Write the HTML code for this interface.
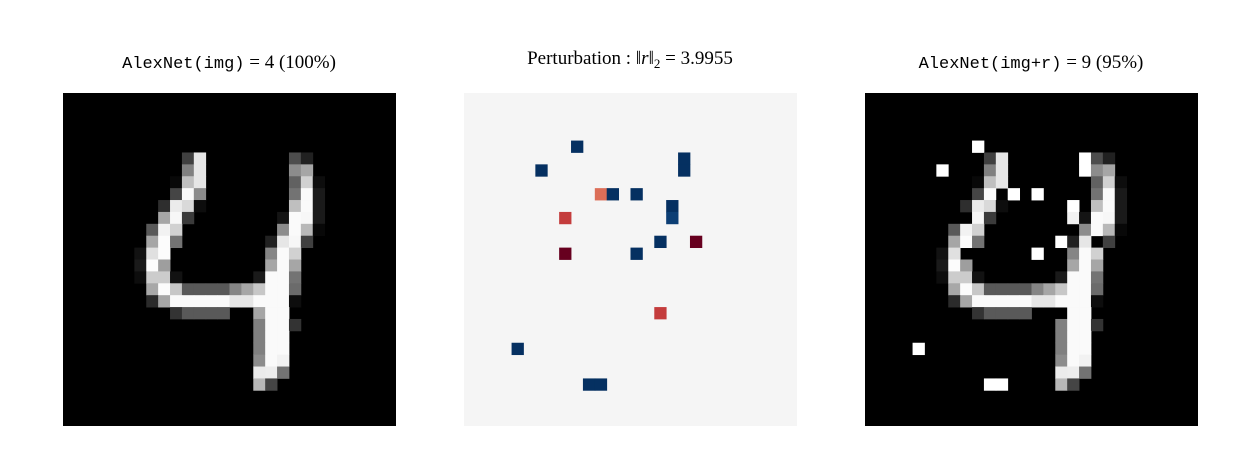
<!DOCTYPE html>
<html><head><meta charset="utf-8"><style>
body{margin:0;background:#fff;width:1260px;height:450px;overflow:hidden}
svg{display:block}
.t{font-family:"Liberation Serif",serif;font-size:19px}
.m{font-family:"Liberation Mono",monospace;font-size:17px}
</style></head><body>
<svg id="fig" width="1260" height="450">
<text class="t" x="229" y="68" text-anchor="middle"><tspan class="m">AlexNet(img)</tspan> = 4 (100%)</text>
<text class="t" x="630" y="64" text-anchor="middle">Perturbation : ‖<tspan font-style="italic">r</tspan>‖<tspan font-size="13" dy="4">2</tspan><tspan dy="-4"> = 3.9955</tspan></text>
<text class="t" x="1031" y="68" text-anchor="middle"><tspan class="m">AlexNet(img+r)</tspan> = 9 (95%)</text>
</svg>
<script>
// digit pixels: [row, col, intensity]
const digitPixels = [
[5,10,.25],[5,11,.9],[5,19,.3],[5,20,.13],
[6,10,.5],[6,11,.9],[6,19,.55],[6,20,.65],
[7,9,.03],[7,10,.75],[7,11,.9],[7,19,.38],[7,20,.82],[7,21,.05],
[8,9,.27],[8,10,.98],[8,11,.55],[8,19,.45],[8,20,.98],[8,21,.1],
[9,8,.18],[9,9,.92],[9,10,.85],[9,11,.05],[9,19,.75],[9,20,.98],[9,21,.1],
[10,8,.65],[10,9,.97],[10,10,.23],[10,18,.08],[10,19,.98],[10,20,.97],[10,21,.1],
[11,7,.35],[11,8,.95],[11,9,.82],[11,18,.55],[11,19,.98],[11,20,.72],[11,21,.03],
[12,7,.65],[12,8,.99],[12,9,.45],[12,17,.13],[12,18,.9],[12,19,.97],[12,20,.25],
[13,6,.07],[13,7,.88],[13,8,.99],[13,17,.52],[13,18,.98],[13,19,.82],
[14,6,.1],[14,7,.99],[14,8,.62],[14,17,.65],[14,18,.98],[14,19,.65],
[15,6,.05],[15,7,.8],[15,8,.8],[15,9,.07],[15,16,.1],[15,17,.98],[15,18,.98],[15,19,.45],
[16,7,.66],[16,8,.99],[16,9,.78],[16,10,.35],[16,11,.35],[16,12,.35],[16,13,.35],[16,14,.52],[16,15,.65],[16,16,.78],[16,17,.98],[16,18,.98],[16,19,.42],
[17,7,.17],[17,8,.65],[17,9,.98],[17,10,.98],[17,11,.98],[17,12,.98],[17,13,.98],[17,14,.9],[17,15,.9],[17,16,.98],[17,17,.98],[17,18,.98],[17,19,.05],
[18,9,.2],[18,10,.35],[18,11,.35],[18,12,.35],[18,13,.35],[18,16,.65],[18,17,.98],[18,18,.98],
[19,16,.5],[19,17,.98],[19,18,.98],[19,19,.2],
[20,16,.5],[20,17,.98],[20,18,.98],
[21,16,.5],[21,17,.98],[21,18,.98],
[22,16,.55],[22,17,.98],[22,18,.95],
[23,16,.92],[23,17,.93],[23,18,.45],
[24,16,.72],[24,17,.27]
];
// perturbation: [row, col, value]
const perturbation = [
[4,9,1],[5,18,1],[6,18,1],[6,6,1],
[8,11,-.56],[8,12,1],[8,14,1],
[9,17,1],[10,17,.95],[10,8,-.7],
[12,16,1],[12,19,-1],[13,8,-1],[13,14,1],
[18,16,-.7],[21,4,1],[24,10,1],[24,11,1]
];
const N=28, cell=333/28;
const panelX=[63,464,865], panelY=93;
const svg=document.getElementById('fig');
const NS='http://www.w3.org/2000/svg';
const rdbu=['#67001f','#b2182b','#d6604d','#f4a582','#fddbc7','#f5f5f5','#d1e5f0','#92c5de','#4393c3','#2166ac','#053061'];
function hex(h){return [1,3,5].map(i=>parseInt(h.substr(i,2),16));}
function cmap(v){let t=(v+1)/2*10;t=Math.max(0,Math.min(10,t));const i=Math.min(9,Math.floor(t)),f=t-i;
const a=hex(rdbu[i]),b=hex(rdbu[i+1]);return 'rgb('+a.map((x,k)=>Math.round(x+(b[k]-x)*f)).join(',')+')';}
function gray(v){const g=Math.round(Math.max(0,Math.min(1,v))*255);return 'rgb('+g+','+g+','+g+')';}
function xPos(p,c){return panelX[p]+c*cell;}
function yPos(r){return panelY+r*cell;}
function rect(p,r,c,fill,name){const e=document.createElementNS(NS,'rect');
e.setAttribute('x',xPos(p,c));e.setAttribute('y',yPos(r));e.setAttribute('width',cell+0.4);e.setAttribute('height',cell+0.4);e.setAttribute('fill',fill);


svg.appendChild(e);}
const bgNames=['original-image-panel','perturbation-panel','perturbed-image-panel'];
const bgFill=['#000','#f5f5f5','#000'];
for(let p=0;p<3;p++){const e=document.createElementNS(NS,'rect');
e.setAttribute('x',panelX[p]);e.setAttribute('y',panelY);e.setAttribute('width',333);e.setAttribute('height',333);e.setAttribute('fill',bgFill[p]);


svg.appendChild(e);}
const grid=Array.from({length:N},()=>new Array(N).fill(0));
digitPixels.forEach(([r,c,v])=>{grid[r][c]=v;rect(0,r,c,gray(v),'digit-pixel');});
const grid2=grid.map(row=>row.slice());
perturbation.forEach(([r,c,v])=>{rect(1,r,c,cmap(v),'perturbation-cell');grid2[r][c]=Math.max(0,Math.min(1,grid2[r][c]+v));});
for(let r=0;r<N;r++)for(let c=0;c<N;c++)if(grid2[r][c]>0)rect(2,r,c,gray(grid2[r][c]),'perturbed-pixel');
</script>
</body></html>
